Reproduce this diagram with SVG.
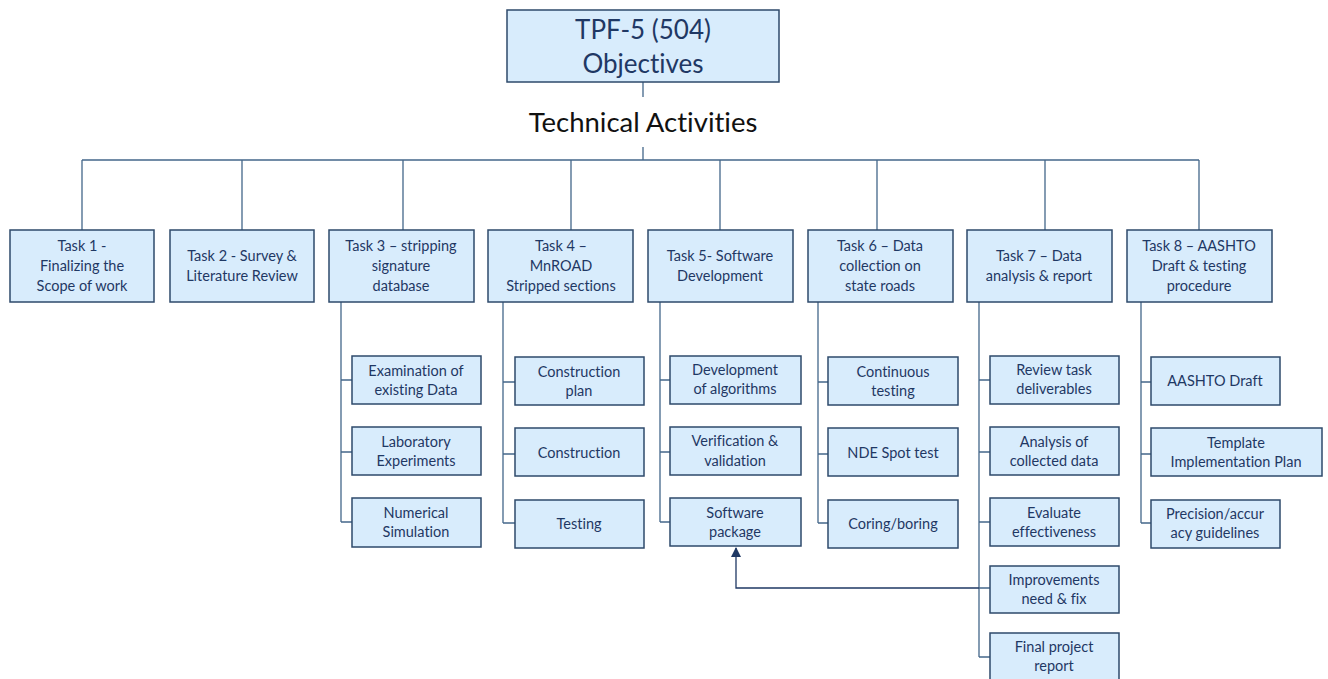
<svg xmlns="http://www.w3.org/2000/svg" width="1328" height="679" viewBox="0 0 1328 679">
<defs>
<style>
text{font-variant-ligatures:none;font-feature-settings:"liga" 0}
.box{fill:#D8ECFC;stroke:#2E4A6B;stroke-width:1.5}
.t{font-family:Lato,"Open Sans",sans-serif;font-size:14.5px;fill:#1F3864;text-anchor:middle}
.s{font-family:Lato,"Open Sans",sans-serif;font-size:14.5px;fill:#1F3864;text-anchor:middle}
.big{font-family:Lato,"Open Sans",sans-serif;font-size:26px;fill:#1F3864;text-anchor:middle}
.ta{font-family:Lato,"Open Sans",sans-serif;font-size:27.5px;fill:#111;text-anchor:middle}
.c{fill:none;stroke:#44678A;stroke-width:1.3}
.a{fill:none;stroke:#1F3864;stroke-width:1.3}
</style>
<marker id="ah" viewBox="0 0 10 10" refX="9" refY="5" markerWidth="8" markerHeight="8" orient="auto"><path d="M0,0 L10,5 L0,10 z" fill="#1F3864"/></marker>
</defs>
<rect width="1328" height="679" fill="#fff"/>
<g id="connectors">
<path class="c" d="M643 82 V97 M643 147 V160 M82 160 H1199 M82 160 V230 M242 160 V230 M403 160 V230 M571 160 V230 M720 160 V230 M877 160 V230 M1045 160 V230 M1199 160 V230"/>
<path class="c" d="M341 302 V522 M341 380 H352 M341 452 H352 M341 522 H352"/>
<path class="c" d="M503 302 V523 M503 382 H515 M503 454 H515 M503 523 H515"/>
<path class="c" d="M660 302 V522 M660 380 H670 M660 452 H670 M660 522 H670"/>
<path class="c" d="M818 302 V523 M818 382 H828 M818 454 H828 M818 523 H828"/>
<path class="c" d="M979 302 V657 M979 380 H990 M979 452 H990 M979 522 H990 M979 588 H990 M979 657 H990"/>
<path class="c" d="M1141 302 V523 M1141 382 H1151 M1141 454 H1151 M1141 523 H1151"/>
<path class="a" d="M979 588 H736 V548" marker-end="url(#ah)"/>
</g>
<g id="objectives"><rect class="box" x="507" y="10" width="272" height="72"/><text class="big" x="643" y="39">TPF-5 (504)</text><text class="big" x="643" y="73">Objectives</text></g>
<g id="technical-activities"><text class="ta" x="643" y="132">Technical Activities</text></g>
<g id="task1"><rect class="box" x="10" y="230" width="144" height="72"/><text class="t" x="82" y="251">Task 1 -</text><text class="t" x="82" y="271">Finalizing the</text><text class="t" x="82" y="291">Scope of work</text></g>
<g id="task2"><rect class="box" x="170" y="230" width="144" height="72"/><text class="t" x="242" y="261">Task 2 - Survey &amp;</text><text class="t" x="242" y="281">Literature Review</text></g>
<g id="task3"><rect class="box" x="329" y="230" width="145" height="72"/><text class="t" x="401" y="251">Task 3 – stripping</text><text class="t" x="401" y="271">signature</text><text class="t" x="401" y="291">database</text></g>
<g id="task4"><rect class="box" x="488" y="230" width="145" height="72"/><text class="t" x="561" y="251">Task 4 –</text><text class="t" x="561" y="271">MnROAD</text><text class="t" x="561" y="291">Stripped sections</text></g>
<g id="task5"><rect class="box" x="648" y="230" width="145" height="72"/><text class="t" x="720" y="261">Task 5- Software</text><text class="t" x="720" y="281">Development</text></g>
<g id="task6"><rect class="box" x="808" y="230" width="145" height="72"/><text class="t" x="880" y="251">Task 6 – Data</text><text class="t" x="880" y="271">collection on</text><text class="t" x="880" y="291">state roads</text></g>
<g id="task7"><rect class="box" x="967" y="230" width="145" height="72"/><text class="t" x="1039" y="261">Task 7 – Data</text><text class="t" x="1039" y="281">analysis &amp; report</text></g>
<g id="task8"><rect class="box" x="1127" y="230" width="145" height="72"/><text class="t" x="1199" y="251">Task 8 – AASHTO</text><text class="t" x="1199" y="271">Draft &amp; testing</text><text class="t" x="1199" y="291">procedure</text></g>

<g id="t3a"><rect class="box" x="352" y="356" width="129" height="48"/><text class="s" x="416" y="376">Examination of</text><text class="s" x="416" y="395">existing Data</text></g>
<g id="t3b"><rect class="box" x="352" y="427" width="129" height="48"/><text class="s" x="416" y="447">Laboratory</text><text class="s" x="416" y="466">Experiments</text></g>
<g id="t3c"><rect class="box" x="352" y="498" width="129" height="49"/><text class="s" x="416" y="518">Numerical</text><text class="s" x="416" y="537">Simulation</text></g>

<g id="t4a"><rect class="box" x="515" y="357" width="129" height="48"/><text class="s" x="579" y="377">Construction</text><text class="s" x="579" y="396">plan</text></g>
<g id="t4b"><rect class="box" x="515" y="428" width="129" height="48"/><text class="s" x="579" y="458">Construction</text></g>
<g id="t4c"><rect class="box" x="515" y="500" width="129" height="48"/><text class="s" x="579" y="529">Testing</text></g>

<g id="t5a"><rect class="box" x="670" y="356" width="131" height="48"/><text class="s" x="735" y="375">Development</text><text class="s" x="735" y="394">of algorithms</text></g>
<g id="t5b"><rect class="box" x="670" y="427" width="131" height="48"/><text class="s" x="735" y="446">Verification &amp;</text><text class="s" x="735" y="466">validation</text></g>
<g id="t5c"><rect class="box" x="670" y="498" width="131" height="48"/><text class="s" x="735" y="518">Software</text><text class="s" x="735" y="537">package</text></g>

<g id="t6a"><rect class="box" x="828" y="357" width="130" height="48"/><text class="s" x="893" y="377">Continuous</text><text class="s" x="893" y="396">testing</text></g>
<g id="t6b"><rect class="box" x="828" y="428" width="130" height="48"/><text class="s" x="893" y="458">NDE Spot test</text></g>
<g id="t6c"><rect class="box" x="828" y="500" width="130" height="48"/><text class="s" x="893" y="529">Coring/boring</text></g>

<g id="t7a"><rect class="box" x="990" y="356" width="129" height="48"/><text class="s" x="1054" y="375">Review task</text><text class="s" x="1054" y="394">deliverables</text></g>
<g id="t7b"><rect class="box" x="990" y="427" width="129" height="48"/><text class="s" x="1054" y="447">Analysis of</text><text class="s" x="1054" y="466">collected data</text></g>
<g id="t7c"><rect class="box" x="990" y="498" width="129" height="48"/><text class="s" x="1054" y="518">Evaluate</text><text class="s" x="1054" y="537">effectiveness</text></g>
<g id="t7d"><rect class="box" x="990" y="566" width="129" height="47"/><text class="s" x="1054" y="585">Improvements</text><text class="s" x="1054" y="604">need &amp; fix</text></g>
<g id="t7e"><rect class="box" x="990" y="633" width="129" height="50"/><text class="s" x="1054" y="652">Final project</text><text class="s" x="1054" y="671">report</text></g>

<g id="t8a"><rect class="box" x="1151" y="357" width="129" height="48"/><text class="s" x="1215" y="386">AASHTO Draft</text></g>
<g id="t8b"><rect class="box" x="1151" y="428" width="171" height="48"/><text class="s" x="1236" y="448">Template</text><text class="s" x="1236" y="467">Implementation Plan</text></g>
<g id="t8c"><rect class="box" x="1151" y="500" width="129" height="48"/><text class="s" x="1215" y="519">Precision/accur</text><text class="s" x="1215" y="538">acy guidelines</text></g>
</svg>
